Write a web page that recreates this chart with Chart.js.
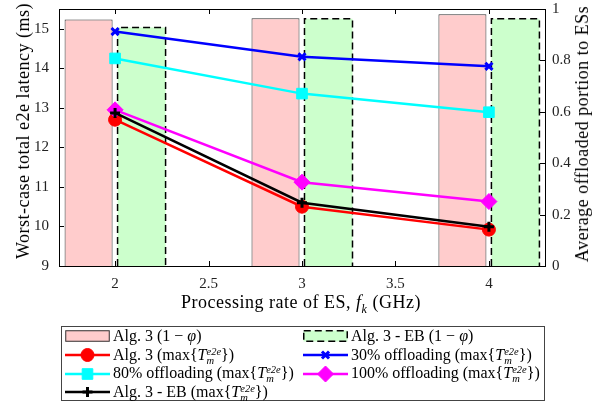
<!DOCTYPE html>
<html>
<head>
<meta charset="utf-8">
<script src="https://cdn.jsdelivr.net/npm/chart.js@4.4.1/dist/chart.umd.min.js"></script>
<style>
  html, body { margin: 0; padding: 0; background: #fff; }
  #wrap { position: relative; width: 602px; height: 407px; font-family: "Liberation Serif", serif; color: #000; overflow: hidden; }
  #chartBox { position: absolute; left: 0; top: 0; width: 602px; height: 320px; }
  .axisTitle { position: absolute; font-size: 18px; letter-spacing: 0.5px; white-space: nowrap; line-height: 1; }
  #xTitle { left: 301px; top: 304px; transform: translate(-50%, -50%); }
  #yTitle { left: 23px; top: 131px; transform: translate(-50%, -50%) rotate(-90deg); }
  #y1Title { left: 582px; top: 134px; transform: translate(-50%, -50%) rotate(-90deg); }
  #legend { position: absolute; left: 61px; top: 326px; width: 484px; height: 75px; box-sizing: border-box;
            border: 1px solid #444; padding: 0 0 0 3px; display: grid; grid-template-columns: 238px auto;
            grid-auto-rows: 18.7px; font-size: 16px; }
  .item { display: flex; align-items: center; white-space: nowrap; }
  .item canvas { margin-right: 3px; flex: none; }
  .ss { display: inline-flex; flex-direction: column; font-size: 10.5px; line-height: 9px; vertical-align: 5px; font-style: italic; }
</style>
</head>
<body>
<div id="wrap">
  <div id="chartBox"><canvas id="chart"></canvas></div>
  <div class="axisTitle" id="xTitle">Processing rate of ES, <i>f</i><sub style="font-size:12px"><i>k</i></sub> (GHz)</div>
  <div class="axisTitle" id="yTitle">Worst-case total e2e latency (ms)</div>
  <div class="axisTitle" id="y1Title">Average offloaded portion to ESs</div>
  <div id="legend"></div>
</div>
<script>
// données
const rates = [2, 3, 4];
const xTickValues = [2, 2.5, 3, 3.5, 4];
const latencyTicks = [9, 10, 11, 12, 13, 14, 15];
const shareTicks = [0, 0.2, 0.4, 0.6, 0.8, 1];

const alg3Share = [0.959, 0.964, 0.980];
const alg3EbShare = [0.928, 0.962, 0.962];
const alg3Latency = [12.70, 10.50, 9.92];
const off30Latency = [14.93, 14.29, 14.05];
const off80Latency = [14.25, 13.36, 12.89];
const off100Latency = [12.95, 11.12, 10.63];
const alg3EbLatency = [12.87, 10.60, 9.99];

const maxT = '(max{<i>T</i><span class="ss"><span>e2e</span><span>m</span></span>})';
const seriesNames = [
    'Alg. 3 (1 &minus; <i>&phi;</i>)',
    'Alg. 3 - EB (1 &minus; <i>&phi;</i>)',
    'Alg. 3 ' + maxT,
    '30% offloading ' + maxT,
    '80% offloading ' + maxT,
    '100% offloading ' + maxT,
    'Alg. 3 - EB ' + maxT
];

const pts = vals => rates.map((x, i) => ({ x: x, y: vals[i] }));

function lineSet(i, vals, color, style, radius, fill, bw, order) {
    return {
        type: 'line', label: seriesNames[i], data: pts(vals), yAxisID: 'y',
        borderColor: color, borderWidth: 2.5, fill: false,
        pointStyle: style, pointRadius: radius,
        pointBackgroundColor: fill, pointBorderColor: color, pointBorderWidth: bw,
        order: order
    };
}

const datasets = [
    { type: 'bar', label: seriesNames[0], data: pts(alg3Share), yAxisID: 'y1',
      backgroundColor: '#ffcccc', borderColor: '#333333', borderWidth: 1, order: 10 },
    { type: 'bar', label: seriesNames[1], data: pts(alg3EbShare), yAxisID: 'y1',
      backgroundColor: '#ccffcc', borderWidth: 0, dashedEdge: true, order: 11 },
    lineSet(2, alg3Latency, '#ff0000', 'circle', 6.5, '#ff0000', 1, 5),
    lineSet(3, off30Latency, '#0000ff', 'crossRot', 5, '#0000ff', 3, 4),
    lineSet(4, off80Latency, '#00ffff', 'rect', 7.5, '#00ffff', 1, 3),
    lineSet(5, off100Latency, '#ff00ff', 'rectRot', 8, '#ff00ff', 1, 2),
    lineSet(6, alg3EbLatency, '#000000', 'cross', 5, '#000000', 3, 1)
];

// contour pointillé des barres EB, cadre et graduations intérieures
const framePlugin = {
    id: 'frame',
    afterDatasetDraw(chart, args) {
        const ds = chart.data.datasets[args.index];
        if (!ds.dashedEdge) return;
        const ctx = chart.ctx;
        ctx.save();
        ctx.strokeStyle = '#000';
        ctx.lineWidth = 1.5;
        ctx.setLineDash([7, 4]);
        args.meta.data.forEach(bar => {
            const p = bar.getProps(['x', 'y', 'base', 'width'], true);
            const l = p.x - p.width / 2, r = p.x + p.width / 2;
            ctx.beginPath();
            ctx.moveTo(l, p.base); ctx.lineTo(l, p.y); ctx.lineTo(r, p.y); ctx.lineTo(r, p.base);
            ctx.stroke();
        });
        ctx.restore();
    },
    afterDraw(chart) {
        const { ctx, chartArea: a, scales } = chart;
        ctx.save();
        ctx.strokeStyle = '#000';
        ctx.lineWidth = 1;
        ctx.beginPath();
        ctx.moveTo(a.left, a.top + 0.5); ctx.lineTo(a.right, a.top + 0.5);
        scales.x.ticks.forEach(t => {
            const px = Math.round(scales.x.getPixelForValue(t.value)) + 0.5;
            ctx.moveTo(px, a.bottom); ctx.lineTo(px, a.bottom - 5);
            ctx.moveTo(px, a.top); ctx.lineTo(px, a.top + 5);
        });
        scales.y.ticks.forEach(t => {
            const py = Math.round(scales.y.getPixelForValue(t.value)) + 0.5;
            ctx.moveTo(a.left, py); ctx.lineTo(a.left + 5, py);
        });
        scales.y1.ticks.forEach(t => {
            const py = Math.round(scales.y1.getPixelForValue(t.value)) + 0.5;
            ctx.moveTo(a.right, py); ctx.lineTo(a.right - 5, py);
        });
        ctx.stroke();
        ctx.restore();
    }
};

Chart.defaults.font.family = '"Liberation Serif", serif';
Chart.defaults.font.size = 15;
Chart.defaults.color = '#222';

const tickList = list => scale => { scale.ticks = list.map(v => ({ value: v })); };
const fixWidth = w => s => { s.width = w; s.paddingTop = 0; s.paddingBottom = 0; };

const chart = new Chart(document.getElementById('chart'), {
    type: 'bar',
    data: { datasets: datasets },
    options: {
        responsive: true,
        maintainAspectRatio: false,
        animation: false,
        events: [],
        layout: { padding: { top: 4, left: 0, right: 0, bottom: 0 } },
        categoryPercentage: 1.134,
        barPercentage: 0.906,
        plugins: { legend: { display: false }, tooltip: { enabled: false } },
        scales: {
            x: {
                type: 'linear', min: 1.7, max: 4.3, offset: false,
                afterBuildTicks: tickList(xTickValues),
                afterFit: s => { s.height = 54; },
                grid: { display: false, drawTicks: false, tickLength: 0 },
                border: { display: true, color: '#000', width: 1 },
                ticks: { padding: 9, autoSkip: false, maxRotation: 0, callback: v => String(v) }
            },
            y: {
                type: 'linear', position: 'left', min: 9, max: 15.5,
                afterBuildTicks: tickList(latencyTicks),
                afterFit: fixWidth(59),
                grid: { display: false, drawTicks: false, tickLength: 0 },
                border: { display: true, color: '#000', width: 1 },
                ticks: { padding: 10, callback: v => String(v) }
            },
            y1: {
                type: 'linear', position: 'right', min: 0, max: 1,
                afterBuildTicks: tickList(shareTicks),
                afterFit: fixWidth(57),
                grid: { display: false, drawTicks: false, tickLength: 0 },
                border: { display: true, color: '#000', width: 1 },
                ticks: { padding: 7, callback: v => String(v) }
            }
        }
    },
    plugins: [framePlugin]
});

// légende en deux colonnes, comme dans la figure
function legendSample(ds) {
    const c = document.createElement('canvas');
    c.width = 45; c.height = 18;
    const g = c.getContext('2d');
    if (ds.type === 'bar') {
        g.fillStyle = ds.backgroundColor;
        g.fillRect(0.5, 3.5, 44, 11);
        g.strokeStyle = ds.dashedEdge ? '#000' : ds.borderColor;
        g.lineWidth = ds.dashedEdge ? 1.5 : 1;
        if (ds.dashedEdge) g.setLineDash([7, 4]);
        g.strokeRect(0.75, 3.75, 43.5, 10.5);
    } else {
        g.strokeStyle = ds.borderColor;
        g.lineWidth = ds.borderWidth;
        g.beginPath(); g.moveTo(0, 9); g.lineTo(45, 9); g.stroke();
        g.fillStyle = ds.pointBackgroundColor;
        g.strokeStyle = ds.pointBorderColor;
        g.lineWidth = ds.pointBorderWidth;
        Chart.helpers.drawPoint(g, { pointStyle: ds.pointStyle, rotation: 0, radius: ds.pointRadius, borderWidth: ds.pointBorderWidth }, 22.5, 9);
    }
    return c;
}

const legend = document.getElementById('legend');
chart.data.datasets.forEach(ds => {
    const item = document.createElement('div');
    item.className = 'item';
    item.appendChild(legendSample(ds));
    const span = document.createElement('span');
    span.innerHTML = ds.label;
    item.appendChild(span);
    legend.appendChild(item);
});
</script>
</body>
</html>
